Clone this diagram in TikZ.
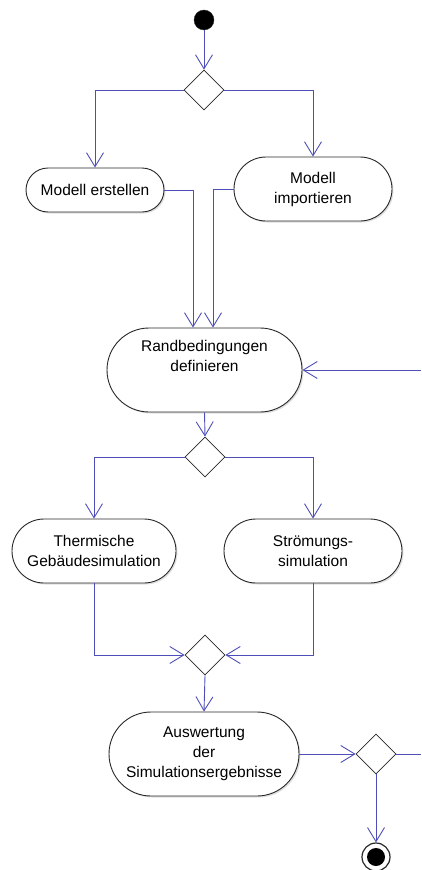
\documentclass[tikz,border=0pt]{standalone}
\usepackage{fontspec}
\setmainfont{Liberation Sans}
\usetikzlibrary{shapes.geometric,shapes.misc,arrows.meta,shadows}
\definecolor{flow}{RGB}{78,78,184}
\definecolor{edge}{RGB}{40,40,40}
\begin{document}
\begin{tikzpicture}[x=1pt,y=-1pt,
  font=\fontsize{15.5}{20}\selectfont,
  act/.style={rounded rectangle, draw=edge, line width=0.9pt, fill=white,
    align=center, inner sep=0pt,
    drop shadow={shadow xshift=1.5pt, shadow yshift=-1.5pt, opacity=0.25}},
  dec/.style={diamond, draw=edge, line width=0.8pt, fill=white, inner sep=0pt,
    minimum width=40pt, minimum height=40pt},
  arr/.style={draw=flow, line width=0.9pt, -{Straight Barb[length=14pt,width=17pt]}},
  ln/.style={draw=flow, line width=0.9pt}]
\useasboundingbox (0,0) rectangle (421,870);
% nodes
\node[circle, fill=black, draw=edge, minimum size=20pt, inner sep=0pt] (start) at (204,20) {};
\node[dec] (d1) at (204,90) {};
\node[act, minimum width=138pt, minimum height=44pt] (me) at (95,190) {Modell erstellen};
\node[act, minimum width=158pt, minimum height=64pt] (mi) at (313,189) {Modell\\importieren};
\node[act, minimum width=195pt, minimum height=84pt] (rb) at (204.5,370) {Randbedingungen\\definieren\\[8pt]\mbox{}};
\node[dec] (d2) at (205,457) {};
\node[act, minimum width=164pt, minimum height=64pt] (th) at (94,551) {Thermische\\Gebäudesimulation};
\node[act, minimum width=178pt, minimum height=64pt] (st) at (313,551) {Strömungs-\\simulation};
\node[dec] (d3) at (205,655) {};
\node[act, minimum width=190pt, minimum height=84pt] (au) at (204,754) {Auswertung\\der\\Simulationsergebnisse};
\node[dec] (d4) at (376,754) {};
\node[circle, draw=edge, line width=1.2pt, fill=white, minimum size=28pt, inner sep=0pt] (end) at (376,857) {};
\node[circle, fill=black, minimum size=18pt, inner sep=0pt] (endin) at (end.center) {};
\coordinate (rbin) at (421,370);
\coordinate (d4out) at (421,754);
\coordinate (j1) at (193,190);
\coordinate (j2) at (213,189);
% connectors
\draw[arr] (start) -- (d1.north);
\draw[arr] (d1.west) -| (me.north);
\draw[arr] (d1.east) -| (mi.north);
\draw[arr] (me.east) -- (j1) -- (j1 |- rb.north);
\draw[arr] (mi.west) -- (j2) -- (j2 |- rb.north);
\draw[arr] (rbin) -- (rb.east);
\draw[arr] (rb.south) -- (d2.north);
\draw[arr] (d2.west) -| (th.north);
\draw[arr] (d2.east) -| (st.north);
\draw[arr] (th.south) |- (d3.west);
\draw[arr] (st.south) |- (d3.east);
\draw[arr] (d3.south) -- (au.north);
\draw[arr] (au.east) -- (d4.west);
\draw[ln] (d4.east) -- (d4out);
\draw[arr] (d4.south) -- (end.north);
\end{tikzpicture}
\end{document}
